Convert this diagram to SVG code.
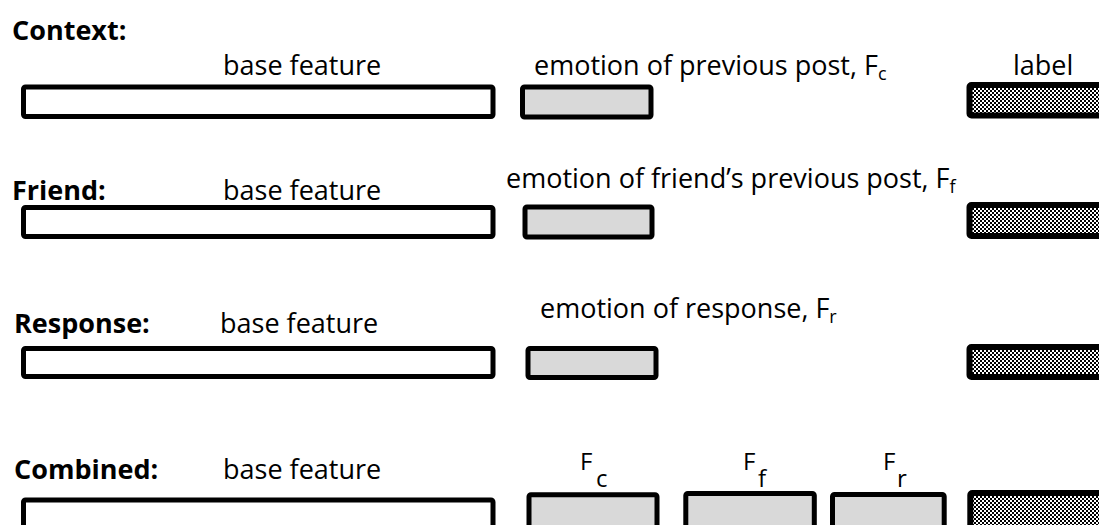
<svg xmlns="http://www.w3.org/2000/svg" width="1099" height="525" viewBox="0 0 1099 525">
  <defs>
    <!-- fine checker fill for the label bars -->
    <pattern id="checker" width="4" height="4" patternUnits="userSpaceOnUse">
      <rect width="4" height="4" fill="#ffffff"/>
      <rect x="0" y="0" width="2" height="2" fill="#000000"/>
      <rect x="2" y="2" width="2" height="2" fill="#000000"/>
    </pattern>
  </defs>
  <style>
    text { font-family: "Open Sans", "Liberation Sans", sans-serif; fill: #000; }
    .hd { font-size: 27px; font-weight: bold; }
    .tx { font-size: 27px; }
    .sub { font-size: 18px; }
    .fl { font-size: 24px; }
    .base { fill: #ffffff; stroke: #000; stroke-width: 5; stroke-linejoin: round; }
    .emo { fill: #d9d9d9; stroke: #000; stroke-width: 5; stroke-linejoin: round; }
    .lab { fill: url(#checker); stroke: #000; stroke-width: 6; stroke-linejoin: round; }
  </style>
  <rect width="1099" height="525" fill="#ffffff"/>

  <!-- Context row -->
  <g id="context">
    <text class="hd" x="12" y="40">Context:</text>
    <text class="tx" x="223" y="75">base feature</text>
    <text class="tx" x="534" y="75">emotion of previous post, F<tspan class="sub" dy="5">c</tspan></text>
    <text class="tx" x="1013" y="75">label</text>
    <rect class="base" x="23.5" y="87" width="469.5" height="29.5" rx="2"/>
    <rect class="emo" x="522.5" y="87" width="128.5" height="30" rx="2"/>
    <rect class="lab" x="969.5" y="85" width="140" height="30.5" rx="2"/>
  </g>

  <!-- Friend row -->
  <g id="friend">
    <text class="hd" x="12" y="200">Friend:</text>
    <text class="tx" x="223" y="200">base feature</text>
    <text class="tx" x="506" y="188">emotion of friend’s previous post, F<tspan class="sub" dy="5">f</tspan></text>
    <rect class="base" x="23.5" y="207.5" width="469.5" height="29" rx="2"/>
    <rect class="emo" x="525" y="207" width="127" height="30" rx="2"/>
    <rect class="lab" x="969.5" y="205" width="140" height="31" rx="2"/>
  </g>

  <!-- Response row -->
  <g id="response">
    <text class="hd" x="14" y="333">Response:</text>
    <text class="tx" x="220" y="333">base feature</text>
    <text class="tx" x="540" y="318">emotion of response, F<tspan class="sub" dy="5">r</tspan></text>
    <rect class="base" x="23.5" y="348.5" width="469.5" height="28" rx="2"/>
    <rect class="emo" x="528" y="348.5" width="128" height="29" rx="2"/>
    <rect class="lab" x="969.5" y="347" width="140" height="30" rx="2"/>
  </g>

  <!-- Combined row -->
  <g id="combined">
    <text class="hd" x="14" y="479">Combined:</text>
    <text class="tx" x="223" y="479">base feature</text>
    <text class="fl" x="580" y="470">F</text>
    <text class="fl" x="596" y="487">c</text>
    <text class="fl" x="743" y="470">F</text>
    <text class="fl" x="758" y="487">f</text>
    <text class="fl" x="883" y="470">F</text>
    <text class="fl" x="897" y="487">r</text>
    <rect class="base" x="23.5" y="500" width="469.5" height="40" rx="2"/>
    <rect class="emo" x="529" y="494.8" width="128" height="40" rx="2"/>
    <rect class="emo" x="685.8" y="493.5" width="128.5" height="40" rx="2"/>
    <rect class="emo" x="832.5" y="494.5" width="111.7" height="40" rx="2"/>
    <rect class="lab" x="970.3" y="493" width="140" height="40" rx="2"/>
  </g>
</svg>
